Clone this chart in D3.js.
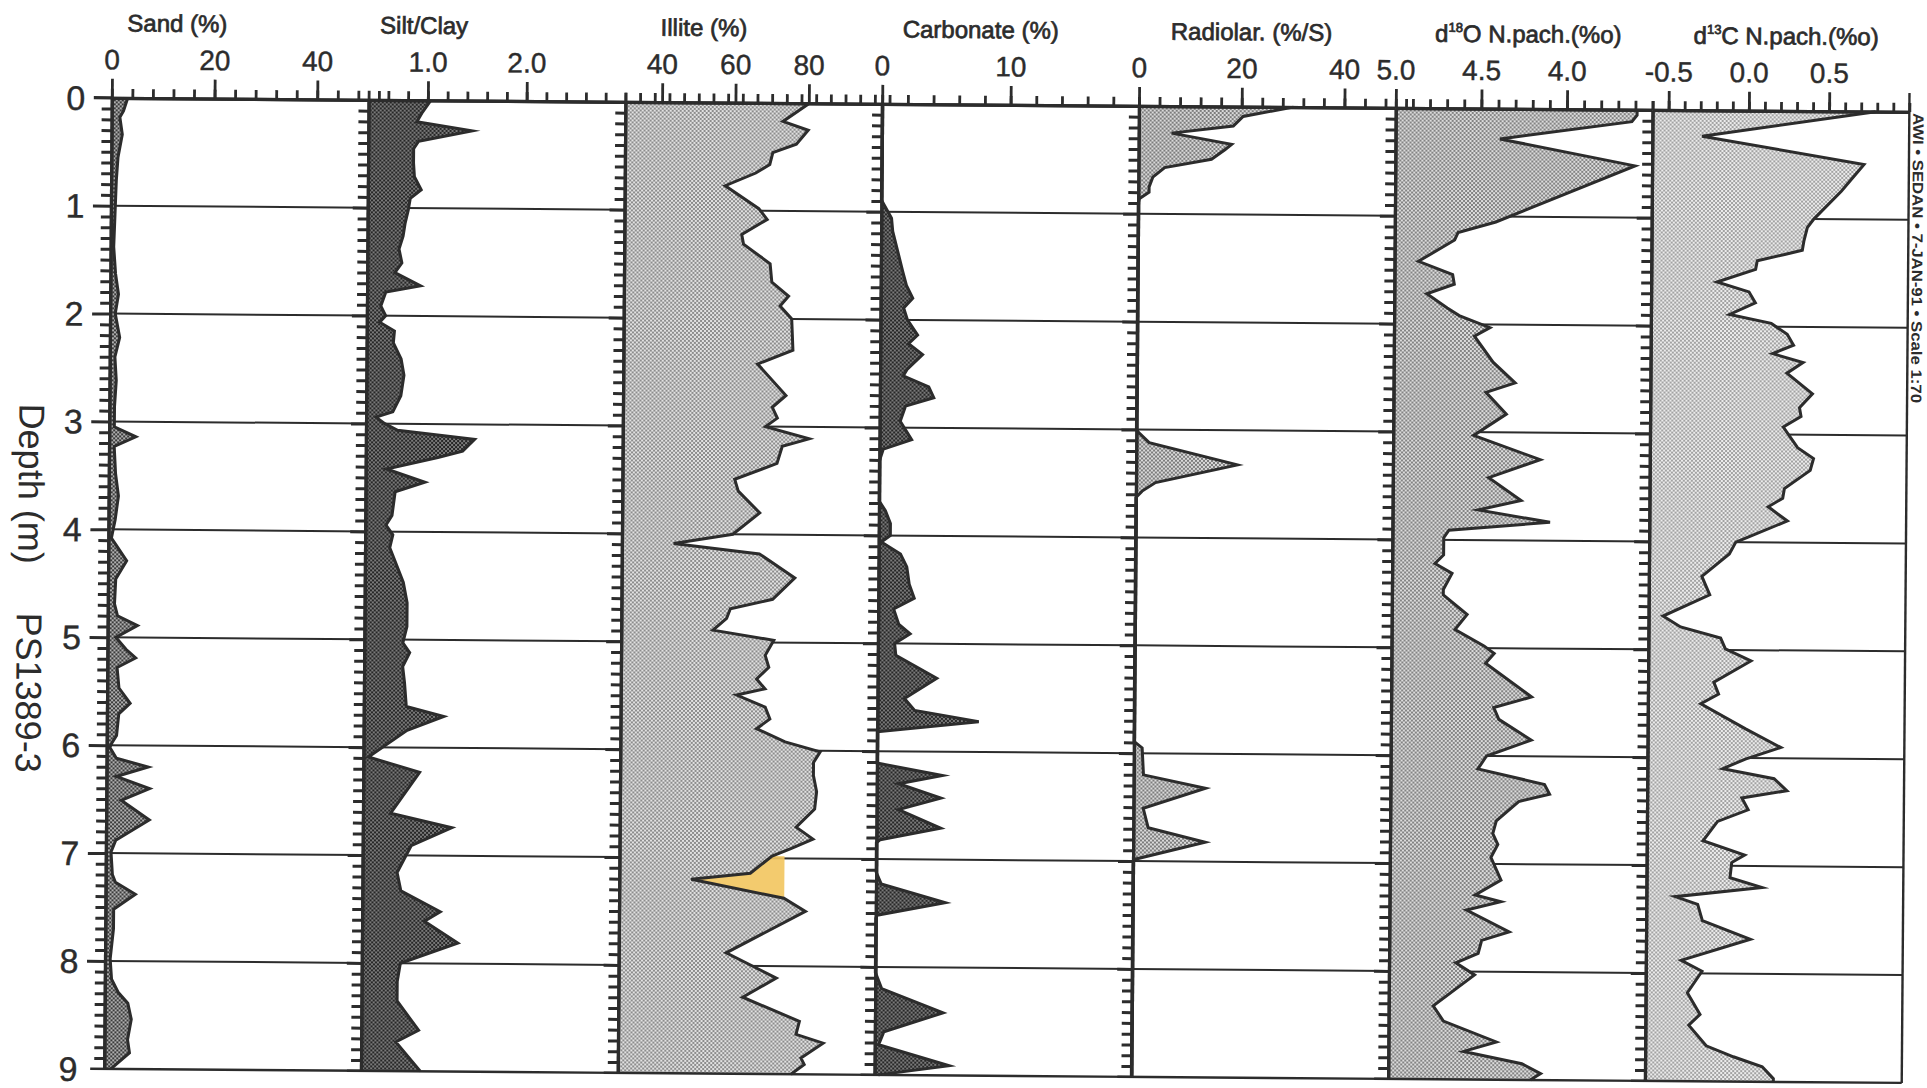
<!DOCTYPE html>
<html><head><meta charset="utf-8">
<script src="https://cdn.jsdelivr.net/npm/d3@7"></script>
<style>
html,body{margin:0;padding:0;background:#fff;}
svg{display:block;}
text{font-family:"Liberation Sans",Arial,sans-serif;fill:#2c2c2c;}
</style></head><body>
<svg id="chart" width="1927" height="1088"></svg>
<script>
// ---------------- data (depth m, value) ----------------
const sand = [[0,3.1],[0.12,2.3],[0.18,1.6],[0.34,2.1],[0.55,1.3],[0.77,1.0],[1.08,0.8],[1.38,0.6],[1.63,1.0],[1.82,1.6],[2.0,1.0],[2.22,1.9],[2.4,1.0],[2.62,1.3],[2.86,1.0],[3.05,1.0],[3.14,5.2],[3.23,1.0],[3.48,1.3],[3.69,1.9],[3.91,1.3],[4.08,0.6],[4.15,1.6],[4.29,3.6],[4.46,1.5],[4.69,1.3],[4.8,1.9],[4.89,5.8],[5.0,1.6],[5.11,3.6],[5.19,5.5],[5.28,1.9],[5.47,2.3],[5.61,4.5],[5.71,2.3],[5.91,1.9],[5.98,1.0],[6.02,0.6],[6.12,1.9],[6.2,8.1],[6.29,1.9],[6.4,8.4],[6.51,2.9],[6.69,8.4],[6.88,1.9],[6.99,1.0],[7.2,1.3],[7.27,1.9],[7.38,5.8],[7.52,1.6],[7.7,1.6],[7.98,1.0],[8.17,1.3],[8.29,2.6],[8.39,4.5],[8.54,5.2],[8.73,4.5],[8.85,4.9],[9.0,1.3]];
const siltClay = [[0,1.03],[0.12,0.94],[0.2,0.89],[0.28,1.45],[0.38,0.91],[0.45,0.86],[0.58,0.86],[0.71,0.87],[0.83,0.94],[0.91,0.83],[1.02,0.81],[1.14,0.78],[1.26,0.76],[1.38,0.72],[1.51,0.75],[1.6,0.68],[1.72,0.94],[1.78,0.59],[1.91,0.54],[2.0,0.59],[2.06,0.53],[2.14,0.68],[2.25,0.67],[2.4,0.75],[2.55,0.78],[2.74,0.75],[2.89,0.67],[2.94,0.5],[3.0,0.59],[3.06,0.72],[3.14,1.5],[3.25,1.38],[3.31,1.13],[3.42,0.61],[3.54,1.0],[3.63,0.7],[3.85,0.67],[3.94,0.61],[4.03,0.68],[4.15,0.65],[4.31,0.72],[4.47,0.79],[4.66,0.83],[4.88,0.83],[5.03,0.79],[5.12,0.86],[5.25,0.79],[5.4,0.81],[5.62,0.83],[5.71,1.21],[5.84,0.84],[6.09,0.45],[6.23,0.97],[6.61,0.68],[6.74,1.3],[6.91,0.89],[7.16,0.75],[7.33,0.79],[7.52,1.19],[7.61,1.03],[7.81,1.37],[8.0,0.79],[8.17,0.76],[8.35,0.76],[8.62,0.98],[8.73,0.75],[9.0,1.0]];
const illite = [[0,80.2],[0.17,73.0],[0.25,79.9],[0.38,76.7],[0.46,70.3],[0.57,69.5],[0.65,65.7],[0.77,57.4],[0.98,66.6],[1.08,68.9],[1.22,62.0],[1.31,62.5],[1.49,69.8],[1.66,70.3],[1.79,74.9],[1.88,72.6],[2.0,75.8],[2.29,76.2],[2.42,66.6],[2.71,74.4],[2.82,70.7],[2.92,72.1],[3.0,68.9],[3.11,80.8],[3.18,73.5],[3.34,72.1],[3.49,60.6],[3.6,61.6],[3.8,67.5],[4.0,60.2],[4.09,44.1],[4.18,67.5],[4.4,77.2],[4.6,71.2],[4.69,59.7],[4.78,58.7],[4.89,55.0],[4.98,71.6],[5.12,69.3],[5.23,70.3],[5.34,67.0],[5.43,69.3],[5.49,61.6],[5.6,69.4],[5.71,70.7],[5.8,67.1],[5.92,74.9],[6.01,84.5],[6.11,82.7],[6.23,82.7],[6.38,83.6],[6.54,83.1],[6.71,78.1],[6.82,82.7],[6.91,76.7],[6.98,71.6],[7.14,65.7],[7.2,49.6],[7.37,74.9],[7.49,80.8],[7.88,59.3],[8.11,73.0],[8.29,63.9],[8.51,79.4],[8.63,78.5],[8.71,85.9],[8.85,79.9],[8.91,80.8],[9.0,77.2]];
const carbonate = [[0,0],[0.89,0],[1.06,0.8],[1.18,0.9],[1.55,1.7],[1.68,2.0],[1.8,2.5],[1.89,1.8],[2.0,2.1],[2.14,2.9],[2.22,2.2],[2.32,3.3],[2.46,2.1],[2.52,1.8],[2.62,3.8],[2.72,4.2],[2.8,2.0],[2.94,1.6],[3.11,2.5],[3.2,0.3],[3.31,0],[3.68,0],[3.77,0.5],[3.89,0.9],[4.0,0.9],[4.06,0.2],[4.17,1.7],[4.29,2.2],[4.45,2.4],[4.58,2.8],[4.68,1.2],[4.82,1.6],[4.91,2.5],[5.0,1.3],[5.11,1.4],[5.32,4.6],[5.51,2.1],[5.62,2.9],[5.72,7.9],[5.82,0],[6.11,0],[6.22,5.1],[6.3,1.7],[6.43,5.0],[6.54,1.7],[6.71,5.0],[6.82,0.3],[6.85,0],[7.12,0],[7.23,0.4],[7.4,5.4],[7.52,0.1],[7.55,0],[8.05,0],[8.2,0.5],[8.42,5.3],[8.6,0.7],[8.72,0.3],[8.91,5.8],[9.0,0.3]];
const radiolaria = [[0,30.1],[0.09,20.3],[0.18,18.4],[0.25,6.4],[0.35,18.1],[0.4,16.8],[0.49,14.2],[0.57,5.1],[0.66,2.8],[0.75,2.1],[0.8,2.1],[0.86,0.2],[0.91,0],[3.0,0],[3.03,0.5],[3.12,2.5],[3.32,19.7],[3.49,3.8],[3.57,1.2],[3.63,0],[5.89,0],[5.95,1.6],[6.2,1.9],[6.32,14.0],[6.51,1.9],[6.69,2.9],[6.82,14.0],[6.98,0.6],[7.0,0],[9.0,0]];
const d18O = [[0,3.59],[0.05,3.59],[0.11,3.62],[0.28,4.39],[0.52,3.6],[1.05,4.41],[1.15,4.63],[1.22,4.65],[1.42,4.86],[1.54,4.66],[1.63,4.65],[1.72,4.81],[1.85,4.69],[1.92,4.62],[2.03,4.44],[2.11,4.53],[2.35,4.42],[2.54,4.29],[2.63,4.46],[2.83,4.34],[3.03,4.53],[3.25,4.14],[3.42,4.44],[3.63,4.25],[3.72,4.5],[3.83,4.08],[3.91,4.67],[3.98,4.7],[4.14,4.7],[4.22,4.75],[4.31,4.65],[4.46,4.7],[4.51,4.7],[4.69,4.56],[4.83,4.63],[4.98,4.46],[5.05,4.4],[5.14,4.45],[5.45,4.18],[5.55,4.4],[5.66,4.37],[5.85,4.18],[6.0,4.44],[6.12,4.49],[6.26,4.1],[6.35,4.07],[6.42,4.25],[6.6,4.38],[6.72,4.4],[6.82,4.37],[6.94,4.41],[7.15,4.35],[7.29,4.5],[7.35,4.35],[7.43,4.55],[7.63,4.3],[7.71,4.46],[7.83,4.48],[7.92,4.61],[8.03,4.5],[8.32,4.74],[8.46,4.68],[8.65,4.37],[8.74,4.56],[8.85,4.22],[8.94,4.11],[9.0,4.17]];
const d13C = [[0,0.79],[0.24,-0.29],[0.49,0.72],[0.74,0.58],[1.0,0.41],[1.08,0.37],[1.2,0.35],[1.29,0.34],[1.33,0.23],[1.39,0.06],[1.47,0.05],[1.59,-0.19],[1.68,0.01],[1.78,0.05],[1.89,-0.11],[1.97,0.15],[2.07,0.25],[2.17,0.29],[2.25,0.16],[2.33,0.35],[2.43,0.25],[2.62,0.41],[2.75,0.33],[2.83,0.34],[2.93,0.23],[3.12,0.32],[3.22,0.42],[3.33,0.4],[3.5,0.24],[3.59,0.23],[3.67,0.14],[3.8,0.26],[3.95,0.02],[4.0,-0.06],[4.11,-0.1],[4.32,-0.27],[4.49,-0.22],[4.69,-0.51],[4.79,-0.4],[4.89,-0.15],[4.99,-0.12],[5.1,0.04],[5.3,-0.19],[5.41,-0.16],[5.5,-0.27],[5.73,0.01],[5.9,0.23],[6.01,0.01],[6.1,-0.13],[6.19,0.19],[6.3,0.27],[6.37,-0.01],[6.48,0.03],[6.59,-0.16],[6.77,-0.25],[6.9,0.01],[6.97,-0.07],[7.11,-0.08],[7.2,0.12],[7.29,-0.42],[7.36,-0.28],[7.51,-0.25],[7.68,0.05],[7.88,-0.38],[7.98,-0.25],[8.18,-0.34],[8.38,-0.26],[8.48,-0.33],[8.67,-0.22],[8.77,-0.05],[8.86,0.13],[8.97,0.2],[9.0,0.2]];

// highlighted (yellow marker) interval on the Illite curve
const illiteHighlight = [6.98, 7.37];
const illiteHighlightEdge = 75;

// ---------------- axes / labels ----------------
const depthTicks = [0,1,2,3,4,5,6,7,8,9];
const titles = [["Sand (%)","",""],["Silt/Clay","",""],["Illite (%)","",""],["Carbonate (%)","",""],["Radiolar. (%/S)","",""],["d","18","O  N.pach.(%o)"],["d","13","C  N.pach.(%o)"]];
const domains = [[0,50],[0.4,3.0],[30,100],[0,20],[0,50],[5.0,3.5],[-0.6,1.0]];
const minorSteps = [4,0.2,4,2,4,0.1,0.1];
const majorTicks = [[0,20,40],[1.0,2.0],[40,60,80],[0,10],[0,20,40],[5.0,4.5,4.0],[-0.5,0.0,0.5]];
const majorLabels = [["0","20","40"],["1.0","2.0"],["40","60","80"],["0","10"],["0","20","40"],["5.0","4.5","4.0"],["-0.5","0.0","0.5"]];
const series = [sand, siltClay, illite, carbonate, radiolaria, d18O, d13C];
const sideNote = "AWI • SEDAN • 7-JAN-91 • Scale 1:70";
const depthTitle = "Depth (m)";
const coreName = "PS1389-3";

// ---------------- layout / style ----------------
const panelLeft = 108, panelW = 256.8, nPanels = 7;
const titleOffsets = [65,55,78,98,112,132,133];
const fills = [["#b0b0b0","#3a3a3a"],["#7a7a7a","#262626"],["#e2e2e2","#8c8c8c"],["#7a7a7a","#262626"],["#dadada","#7c7c7c"],["#dcdcdc","#838383"],["#ececec","#a2a2a2"]];
const ink = "#2c2c2c";

const svg = d3.select("#chart");
const defs = svg.append("defs");
fills.forEach((c,i)=>{
  const p = defs.append("pattern").attr("id","pat"+i).attr("patternUnits","userSpaceOnUse").attr("width",4).attr("height",4);
  p.append("rect").attr("width",4).attr("height",4).attr("fill",c[0]);
  p.append("rect").attr("width",2).attr("height",2).attr("fill",c[1]);
  p.append("rect").attr("x",2).attr("y",2).attr("width",2).attr("height",2).attr("fill",c[1]);
});

const root = svg.append("g").attr("transform","rotate(0.45 960 585)");
const y = d3.scaleLinear().domain([0,9]).range([104.5,1075.5]);
const minorDepth = d3.range(1,90).filter(k=>k%10!==0).map(k=>k/10);

function styleAxis(g, w, tw){
  g.select(".domain").attr("stroke",ink).attr("stroke-width",w);
  g.selectAll(".tick line").attr("stroke",ink).attr("stroke-width",tw||2.8);
}

series.forEach((data,i)=>{
  const x0 = panelLeft + i*panelW, x1 = x0 + panelW;
  const dom = domains[i];
  const x = d3.scaleLinear().domain(dom).range([x0,x1]);
  const g = root.append("g");

  // gridlines 1..8 (under the fill)
  g.selectAll("line.grid").data(d3.range(1,9)).join("line")
    .attr("x1",x0).attr("x2",x1).attr("y1",d=>y(d)).attr("y2",d=>y(d))
    .attr("stroke",ink).attr("stroke-width",2);

  // filled profile
  const area = d3.area().y(d=>y(d[0])).x0(x(dom[0])).x1(d=>x(d[1]));
  g.append("path").datum(data).attr("d",area).attr("fill",`url(#pat${i})`);

  if(i===2){
    const hl = data.filter(d=>d[0]>=illiteHighlight[0] && d[0]<=illiteHighlight[1]);
    const hArea = d3.area().y(d=>y(d[0])).x0(d=>x(d[1])).x1(x(illiteHighlightEdge));
    g.append("path").datum(hl).attr("d",hArea).attr("fill","#f2c55e").attr("opacity",0.9);
  }

  const line = d3.line().y(d=>y(d[0])).x(d=>x(d[1]));
  g.append("path").datum(data).attr("d",line).attr("fill","none")
    .attr("stroke",ink).attr("stroke-width",3).attr("stroke-linejoin","miter").attr("stroke-miterlimit",6);

  // bottom line at 9 m
  g.append("line").attr("x1",x0-14).attr("x2",x1).attr("y1",y(9)).attr("y2",y(9))
    .attr("stroke",ink).attr("stroke-width",2.4);

  // left depth axis of the panel: minor comb + meter ticks
  const gm = g.append("g").attr("transform",`translate(${x0},0)`)
    .call(d3.axisLeft(y).tickValues(minorDepth).tickSize(10).tickSizeOuter(0).tickFormat(""));
  styleAxis(gm,3.2,3);
  const gM = g.append("g").attr("transform",`translate(${x0},0)`)
    .call(d3.axisLeft(y).tickValues(depthTicks.slice(1,9)).tickSize(i===0?18:15).tickSizeOuter(0).tickFormat(""));
  styleAxis(gM,3.2,3);

  // top axis
  const n = Math.round((dom[1]-dom[0])/ (dom[1]>dom[0]?minorSteps[i]:-minorSteps[i]));
  const minorTop = d3.range(0,n+1).map(k=>+(dom[0] + (dom[1]>dom[0]?1:-1)*k*minorSteps[i]).toFixed(3));
  const gt = g.append("g").attr("transform",`translate(0,${y(0)})`)
    .call(d3.axisTop(x).tickValues(minorTop).tickSize(9).tickSizeOuter(0).tickFormat(""));
  styleAxis(gt,3.2);
  const gT = g.append("g").attr("transform",`translate(0,${y(0)})`)
    .call(d3.axisTop(x).tickValues(majorTicks[i]).tickSize(19).tickSizeOuter(0).tickFormat(""));
  styleAxis(gT,3.2);

  // tick labels
  g.selectAll("text.tl").data(majorTicks[i]).join("text")
    .attr("x",d=>x(d)).attr("y",76).attr("text-anchor","middle")
    .attr("font-size",28).attr("stroke",ink).attr("stroke-width",0.4)
    .text((d,k)=>majorLabels[i][k]);

  // title
  const t = g.append("text").attr("x",x0+titleOffsets[i]).attr("y",38)
    .attr("text-anchor","middle").attr("font-size",24).attr("stroke",ink).attr("stroke-width",0.7);
  t.append("tspan").text(titles[i][0]);
  if(titles[i][1]){
    t.append("tspan").attr("font-size",13).attr("dy",-10).text(titles[i][1]);
    t.append("tspan").attr("dy",10).text(titles[i][2]);
  }
});

// top-left extension of depth-0 tick and right border
root.append("line").attr("x1",panelLeft-18).attr("x2",panelLeft).attr("y1",y(0)).attr("y2",y(0))
  .attr("stroke",ink).attr("stroke-width",3.2);
const xEnd = panelLeft + nPanels*panelW;
root.append("line").attr("x1",xEnd).attr("x2",xEnd).attr("y1",y(0)-19).attr("y2",y(9))
  .attr("stroke",ink).attr("stroke-width",2.4);

// depth labels
root.selectAll("text.depth").data(depthTicks).join("text")
  .attr("x",panelLeft-36).attr("y",d=>y(d)).attr("dy","0.36em").attr("text-anchor","middle")
  .attr("font-size",34).attr("stroke",ink).attr("stroke-width",0.4).text(d=>d);

// rotated titles
root.append("text").attr("transform","translate(18,491) rotate(90)").attr("text-anchor","middle")
  .attr("font-size",36).attr("fill","#3a3a3a").text(depthTitle);
root.append("text").attr("transform","translate(17,700) rotate(90)").attr("text-anchor","middle")
  .attr("font-size",36).attr("fill","#3a3a3a").text(coreName);
root.append("text").attr("transform","translate(1909.5,250.5) rotate(90)").attr("text-anchor","middle")
  .attr("font-size",15).attr("font-weight","bold").attr("textLength",290).attr("lengthAdjust","spacingAndGlyphs")
  .text(sideNote);
</script>
</body></html>
